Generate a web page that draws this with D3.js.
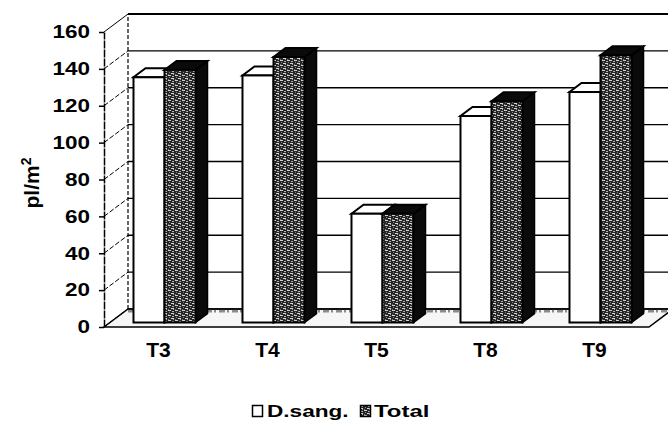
<!DOCTYPE html>
<html>
<head>
<meta charset="utf-8">
<script src="https://d3js.org/d3.v7.min.js"></script>
<style>
    body { margin: 0; background: #fff; }
    text { font-family: "Liberation Sans", Arial, sans-serif; font-weight: bold; fill: #000; }
</style>
</head>
<body>
<script>
var categories = ["T3", "T4", "T5", "T8", "T9"];
var seriesNames = ["D.sang.", "Total"];
var dsangValues = [133, 134, 59, 112, 125];
var totalValues = [137, 144, 59, 120, 145];
var yTicks = [0, 20, 40, 60, 80, 100, 120, 140, 160];
var yTitle = "pl/m";

!function () {
    var W = 668, H = 423;
    var left = 104, right = 649, bottom = 327, top = 32;
    var wallDx = 24, wallDy = -18;
    var barDx0 = 6, barDy0 = -4.5, barDx = 12, barDy = -9;

    var svg = d3.select("body").append("svg")
        .attr("width", W)
        .attr("height", H);

    var defs = svg.append("defs");
    var pat = defs.append("pattern")
        .attr("id", "speckle")
        .attr("patternUnits", "userSpaceOnUse")
        .attr("width", 7)
        .attr("height", 5);
    pat.append("rect").attr("width", 7).attr("height", 5).attr("fill", "#262626");
    [[0, 0, 3, 1, "#d0d0d0"], [4, 1, 2, 1, "#b0b0b0"], [1, 2, 1, 1, "#8a8a8a"],
     [3, 3, 3, 1, "#d8d8d8"], [0, 4, 1, 1, "#777"], [5, 4, 1, 1, "#999"]].forEach(function (r) {
        pat.append("rect").attr("x", r[0]).attr("y", r[1]).attr("width", r[2]).attr("height", r[3]).attr("fill", r[4]);
    });

    var x = d3.scaleBand()
        .domain(categories)
        .range([left, right])
        .paddingInner(0.431)
        .paddingOuter(0.2155);

    var xs = d3.scaleBand()
        .domain(seriesNames)
        .range([0, x.bandwidth()]);

    var y = d3.scaleLinear()
        .domain([0, 160])
        .range([bottom, top]);

    // floor
    svg.append("polygon")
        .attr("points", [[left, bottom], [right, bottom], [right + wallDx, bottom + wallDy], [left + wallDx, bottom + wallDy]].join(" "))
        .attr("fill", "#f6f6f6")
        .attr("stroke", "#000")
        .attr("stroke-width", 1.5);
    svg.append("line")
        .attr("x1", left + wallDx).attr("x2", W)
        .attr("y1", bottom + wallDy + 2).attr("y2", bottom + wallDy + 2)
        .attr("stroke", "#8a8a8a")
        .attr("stroke-width", 3)
        .attr("stroke-dasharray", "6,2,2,3");

    // back wall grid
    svg.selectAll(".grid").data(yTicks).enter().append("line")
        .attr("class", "grid")
        .attr("x1", left + wallDx).attr("x2", right + wallDx)
        .attr("y1", function (d) { return y(d) + wallDy; })
        .attr("y2", function (d) { return y(d) + wallDy; })
        .attr("stroke", "#000")
        .attr("stroke-width", function (d) { return d === 160 ? 2 : 1.3; });

    // side wall diagonals
    svg.selectAll(".diag").data(yTicks).enter().append("line")
        .attr("class", "diag")
        .attr("x1", left).attr("x2", left + wallDx)
        .attr("y1", function (d) { return y(d); })
        .attr("y2", function (d) { return y(d) + wallDy; })
        .attr("stroke", "#000")
        .attr("stroke-width", 1)
        .attr("stroke-dasharray", function (d) { return d === 160 ? null : "5,2"; });

    svg.append("line")
        .attr("x1", left + wallDx).attr("x2", left + wallDx)
        .attr("y1", y(0) + wallDy).attr("y2", y(160) + wallDy)
        .attr("stroke", "#000")
        .attr("stroke-width", 1.2)
        .attr("stroke-dasharray", "4,2");

    // bars
    var bars = [];
    categories.forEach(function (c, i) {
        bars.push({cat: c, s: seriesNames[0], v: dsangValues[i]});
        bars.push({cat: c, s: seriesNames[1], v: totalValues[i]});
    });

    var w = xs.bandwidth();
    var g = svg.selectAll(".bar").data(bars).enter().append("g").attr("class", "bar");
    g.each(function (d) {
        var x0 = x(d.cat) + xs(d.s) + barDx0;
        var yb = y(0) + barDy0;
        var yt = y(d.v) + barDy0;
        var isTotal = d.s === "Total";
        var sel = d3.select(this);
        sel.append("polygon")
            .attr("points", [[x0 + w, yt], [x0 + w + barDx, yt + barDy], [x0 + w + barDx, yb + barDy], [x0 + w, yb]].join(" "))
            .attr("fill", isTotal ? "#0a0a0a" : "#ccc")
            .attr("stroke", "#000").attr("stroke-width", 1.5);
        sel.append("polygon")
            .attr("points", [[x0, yt], [x0 + w, yt], [x0 + w + barDx, yt + barDy], [x0 + barDx, yt + barDy]].join(" "))
            .attr("fill", isTotal ? "#0a0a0a" : "#fff")
            .attr("stroke", "#000").attr("stroke-width", 2);
        sel.append("rect")
            .attr("x", x0).attr("y", yt)
            .attr("width", w).attr("height", yb - yt)
            .attr("fill", isTotal ? "url(#speckle)" : "#fff")
            .attr("stroke", "#000").attr("stroke-width", 2);
    });

    // front axis
    var stretch = 1.25;
    var yAxis = d3.axisLeft(y).tickValues(yTicks).tickSize(5).tickSizeOuter(0).tickPadding(4);
    var ax = svg.append("g")
        .attr("transform", "translate(" + left + ",0)")
        .call(yAxis);
    ax.attr("font-family", null).attr("font-size", null);
    ax.select(".domain").attr("stroke-width", 1.5).attr("stroke-dasharray", "8,1");
    ax.selectAll(".tick line").attr("stroke-width", 1.5);
    ax.selectAll(".tick text")
        .style("font-size", "18px")
        .attr("fill", "#000")
        .attr("x", -14 / stretch)
        .attr("transform", "scale(" + stretch + ",1)");

    // category labels
    svg.selectAll(".cat").data(categories).enter().append("text")
        .attr("class", "cat")
        .attr("x", function (d) { return x(d) + x.bandwidth() / 2; })
        .attr("y", 357)
        .attr("text-anchor", "middle")
        .style("font-size", "21px")
        .text(function (d) { return d; });

    // y title
    var t = svg.append("text")
        .attr("transform", "translate(39,183) rotate(-90)")
        .attr("text-anchor", "middle")
        .style("font-size", "21px")
        .text(yTitle);
    t.append("tspan").attr("dy", -8).style("font-size", "14px").text("2");

    // legend
    var ls = 1.33;
    var lg = svg.append("g").attr("transform", "translate(252,405)");
    lg.append("rect").attr("x", 0.5).attr("y", 0.5).attr("width", 10).attr("height", 11)
        .attr("fill", "#fff").attr("stroke", "#000").attr("stroke-width", 1.5);
    lg.append("text").attr("transform", "translate(15,12) scale(" + ls + ",1)").style("font-size", "17px").text(seriesNames[0]);
    lg.append("rect").attr("x", 108.5).attr("y", 0.5).attr("width", 10).attr("height", 11)
        .attr("fill", "url(#speckle)").attr("stroke", "#000").attr("stroke-width", 1.5);
    lg.append("text").attr("transform", "translate(122,12) scale(" + (ls + 0.08) + ",1)").style("font-size", "17px").text(seriesNames[1]);
}();
</script>
</body>
</html>
